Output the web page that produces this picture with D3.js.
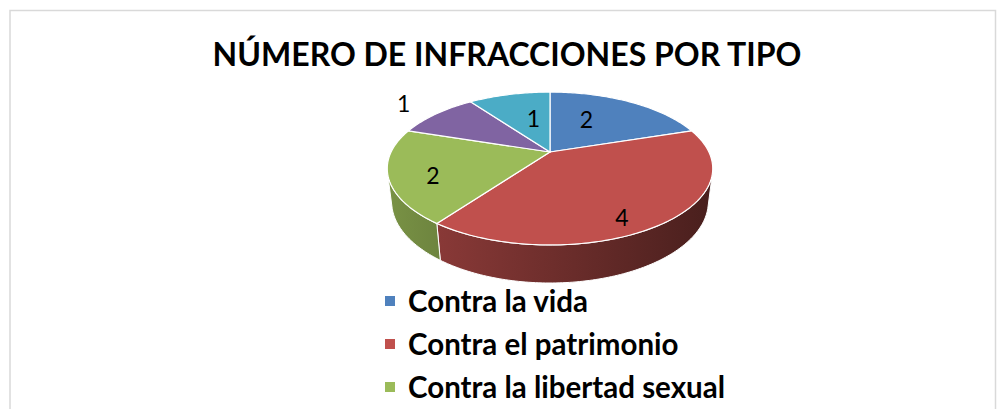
<!DOCTYPE html>
<html>
<head>
<meta charset="utf-8">
<script src="https://cdn.jsdelivr.net/npm/d3@7"></script>
<style>
  html, body { margin: 0; padding: 0; background: #fff; }
  svg { display: block; }
</style>
</head>
<body>
<div id="chart"></div>
<script>
// data
const categories = [
  "Contra la vida",
  "Contra el patrimonio",
  "Contra la libertad sexual",
  "Contra la libertad personal",
  "Otros"
];
const values = [2, 4, 2, 1, 1];
const colors = ["#4f81bd", "#c0504d", "#9bbb59", "#8064a2", "#4bacc6"];
const title = "NÚMERO DE INFRACCIONES POR TIPO";

const width = 1000, height = 409;

const svg = d3.select("#chart").append("svg")
  .attr("width", width)
  .attr("height", height);

// outer chart border
svg.append("rect")
  .attr("x", 10).attr("y", 10.5)
  .attr("width", 985.5).attr("height", 600)
  .attr("fill", "#fff")
  .attr("stroke", "#d9d9d9")
  .attr("stroke-width", 1.5);

svg.append("text")
  .attr("x", 507).attr("y", 66)
  .attr("text-anchor", "middle")
  .attr("font-family", "Lato, 'Open Sans', sans-serif")
  .attr("font-weight", "bold")
  .attr("font-size", 32)
  .attr("fill", "#000")
  .text(title);

// 3D perspective setup (unit radius pie)
const cx = 550, cy = 152;
const tilt = 27.3 * Math.PI / 180;
const sinT = Math.sin(tilt), cosT = Math.cos(tilt);
const dist = 4.11, focal = 653, depth = 0.2355;

function project(theta, r, yy) {
  const X = r * Math.sin(theta), Z = r * Math.cos(theta);
  const yc = yy * cosT + Z * sinT;
  const dd = dist + Z * cosT - yy * sinT;
  return [cx + focal * X / dd, cy - focal * yc / dd];
}

const arcPts = (a0, a1, r, yy) => {
  const n = Math.max(2, Math.ceil(Math.abs(a1 - a0) / (Math.PI / 180)));
  return d3.range(n + 1).map(i => project(a0 + (a1 - a0) * i / n, r, yy));
};

const pie = d3.pie().sort(null).value(d => d.value)
  .startAngle(0).endAngle(2 * Math.PI);
const slices = pie(values.map((v, i) => ({ name: categories[i], value: v, color: colors[i] })));

const line = d3.line().curve(d3.curveLinearClosed);

// visible side range (silhouette of the cylinder)
const visA = Math.acos(-1 / (dist * cosT));
const visB = 2 * Math.PI - visA;

const xLeft = project(visB, 1, 0)[0], xRight = project(visA, 1, 0)[0];
const defs = svg.append("defs");

const gPie = svg.append("g");

// sides
slices.forEach((s, i) => {
  const a0 = Math.max(s.startAngle, visA), a1 = Math.min(s.endAngle, visB);
  if (a1 <= a0) return;
  const grad = defs.append("linearGradient")
    .attr("id", "side" + i)
    .attr("gradientUnits", "userSpaceOnUse")
    .attr("x1", xLeft).attr("x2", xRight).attr("y1", 0).attr("y2", 0);
  [[0, 0.7], [0.15, 0.95], [1, 2.7]].forEach(([o, k]) => {
    grad.append("stop").attr("offset", o).attr("stop-color", d3.color(s.data.color).darker(k));
  });
  const pts = arcPts(a0, a1, 1, 0).concat(arcPts(a1, a0, 1, -depth));
  gPie.append("path")
    .attr("d", line(pts))
    .attr("fill", `url(#side${i})`)
    .attr("stroke", "#fff")
    .attr("stroke-width", 1);
});

// tops
slices.forEach(s => {
  const pts = [project(0, 0, 0)].concat(arcPts(s.startAngle, s.endAngle, 1, 0));
  gPie.append("path")
    .attr("d", line(pts))
    .attr("fill", s.data.color)
    .attr("stroke", "#fff")
    .attr("stroke-width", 1.2);
});

// data labels: inside labels pulled a bit toward the vertical axis, outer one for the small slice
const outsideLabels = new Set(["Contra la libertad personal"]);
slices.forEach(s => {
  const mid = (s.startAngle + s.endAngle) / 2;
  let lx, ly;
  if (outsideLabels.has(s.data.name)) {
    [lx, ly] = project(mid, 1.33, 0);
  } else {
    const a = mid - 0.166 * Math.sin(2 * mid);
    const r = 0.7 - 0.17 * Math.cos(mid);
    [lx, ly] = project(a, r, 0);
  }
  gPie.append("text")
    .attr("x", lx).attr("y", ly)
    .attr("text-anchor", "middle")
    .attr("dominant-baseline", "central")
    .attr("font-family", "Lato, 'Open Sans', sans-serif")
    .attr("font-size", 23)
    .attr("fill", "#000")
    .text(s.data.value);
});

// legend (only the entries that fit in the visible area)
const legendY = d3.scaleLinear().domain([0, 1]).range([312, 355]);
const legend = svg.append("g");
slices.filter((s, i) => legendY(i) - 22 < height).forEach((s, i) => {
  const g = legend.append("g").attr("transform", `translate(0,${legendY(i)})`);
  g.append("rect")
    .attr("x", 385).attr("y", -16)
    .attr("width", 10).attr("height", 10)
    .attr("fill", s.data.color);
  g.append("text")
    .attr("x", 408).attr("y", 0)
    .attr("font-family", "Lato, 'Open Sans', sans-serif")
    .attr("font-weight", "bold")
    .attr("font-size", 29.5)
    .attr("fill", "#000")
    .text(s.data.name);
});
</script>
</body>
</html>
